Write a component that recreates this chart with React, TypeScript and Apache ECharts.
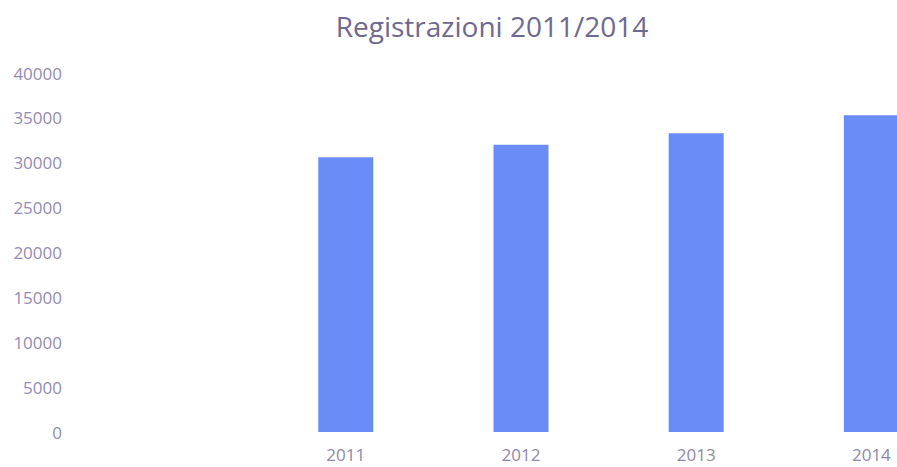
import React, { useEffect, useRef } from "react";
import * as echarts from "echarts";

const categories = ["", "2011", "2012", "2013", "2014"];
const registrations = [null, 30600, 32000, 33300, 35300];
const yTicks = { min: 0, max: 40000, interval: 5000 };
const titleText = "Registrazioni 2011/2014";

export default function App() {
  const ref = useRef<HTMLDivElement>(null);
  useEffect(() => {
    if (!ref.current) return;
    const chart = echarts.init(ref.current, undefined, { renderer: "svg" });
    chart.setOption({
      animation: false,
      backgroundColor: "#ffffff",
      title: {
        text: titleText,
        left: "center",
        top: 7,
        textStyle: {
          fontFamily: "Open Sans",
          fontSize: 28,
          fontWeight: "normal",
          color: "#6e6990",
        },
      },
      grid: { left: 83, right: 25, top: 73, bottom: 35 },
      xAxis: {
        type: "category",
        data: categories,
        axisLine: { show: false },
        axisTick: { show: false },
        axisLabel: {
          margin: 13,
          fontFamily: "Open Sans",
          fontSize: 17,
          lineHeight: 18,
          color: "#8f88a8",
        },
      },
      yAxis: {
        type: "value",
        min: yTicks.min,
        max: yTicks.max,
        interval: yTicks.interval,
        splitLine: { show: false },
        axisLine: { show: false },
        axisTick: { show: false },
        axisLabel: {
          margin: 21,
          fontFamily: "Open Sans",
          fontSize: 17,
          color: "#928cb4",
          formatter: (v: number) => String(v),
        },
      },
      series: [
        {
          type: "bar",
          data: registrations,
          barWidth: 55,
          itemStyle: { color: "#6a8cf6" },
        },
      ],
    });
    return () => chart.dispose();
  }, []);
  return (
    <div
      style={{
        position: "fixed",
        left: 0,
        top: 0,
        width: 897,
        height: 467,
        overflow: "hidden",
        background: "#fff",
      }}
    >
      <div ref={ref} style={{ width: 984, height: 467 }} />
    </div>
  );
}
